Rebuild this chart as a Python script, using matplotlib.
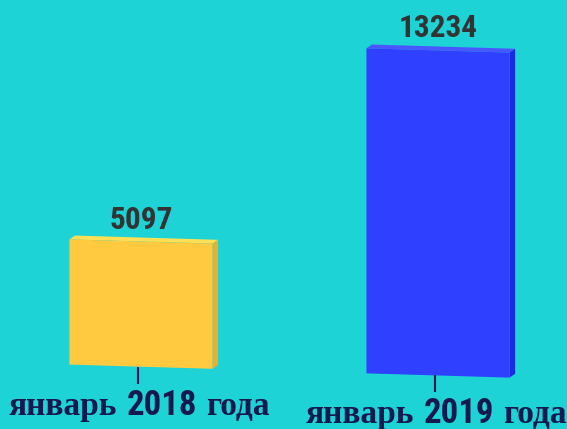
import numpy as np
import matplotlib
matplotlib.use('Agg')
import matplotlib.pyplot as plt
from matplotlib.transforms import Affine2D, IdentityTransform
from matplotlib.patches import Polygon

# ---- data ----
cat_words = [('январь', '2018', 'года'), ('январь', '2019', 'года')]
values = [5097, 13234]
colors_front = ['#FFC940', '#2F40FF']
colors_top = ['#FFE055', '#4A57FF']
colors_side = ['#E8B02C', '#172DE4']

BG = '#1ED3D6'
NAVY = '#15194F'
DPI = 100

fig = plt.figure(figsize=(5.67, 4.29), dpi=DPI, facecolor=BG)
ax = fig.add_axes([0, 0, 1, 1])
ax.set_facecolor(BG)
ax.set_axis_off()

x = np.arange(len(values))
ax.set_xlim(-0.4747, 1.4343)
ax.set_ylim(-2537, 14930)

# slight perspective tilt (display space skew)
slope = 0.0296
x0 = 141
skew = Affine2D().translate(-x0, 0).skew(0, -np.arctan(slope)).translate(x0, 0)
trans = ax.transData + skew

width = 0.482
bars = ax.bar(x, values, width=width, color=colors_front, transform=trans, zorder=3)

# depth faces
d = np.array([5.5, 3.8])
for xi, v, ct, cs in zip(x, values, colors_top, colors_side):
    pts = trans.transform([(xi - width / 2, 0), (xi + width / 2, 0),
                           (xi + width / 2, v), (xi - width / 2, v)])
    top = [pts[3], pts[2], pts[2] + d, pts[3] + d]
    side = [pts[1], pts[2], pts[2] + d, pts[1] + d]
    ax.add_patch(Polygon(top, closed=True, facecolor=ct, edgecolor='none',
                         transform=IdentityTransform(), zorder=2))
    ax.add_patch(Polygon(side, closed=True, facecolor=cs, edgecolor='none',
                         transform=IdentityTransform(), zorder=2))

num_family = ['Roboto Condensed', 'Roboto', 'DejaVu Sans']

# value labels
for xi, v in zip(x, values):
    ax.annotate(f'{v}', xy=(xi, v), xycoords=trans, xytext=(0, 13),
                textcoords='offset pixels', ha='center', va='baseline',
                fontsize=22.5, fontweight='bold', family=num_family,
                color='#333333', zorder=5)

# ticks
for xi in x:
    ax.plot([xi], [0], marker=3, markersize=12.2, markeredgewidth=1.5,
            color=NAVY, transform=trans + Affine2D().translate(-3, 0), zorder=4)

# category labels (mixed fonts)
fig.canvas.draw()
renderer = fig.canvas.get_renderer()
serif = dict(family=['Liberation Serif'], fontweight='bold',
             fontsize=24, color=NAVY)
num = dict(family=num_family, fontweight='bold', fontsize=25, color=NAVY)
gap_px = 9
for xi, words in zip(x, cat_words):
    anchor = trans + Affine2D().translate(-2, -48)
    texts = []
    for s, props in zip(words, [serif, num, serif]):
        t = ax.text(xi, 0, s, transform=anchor, ha='left', va='baseline', **props)
        texts.append(t)
    widths = [t.get_window_extent(renderer).width for t in texts]
    total = sum(widths) + gap_px * (len(texts) - 1)
    cur = -total / 2
    for t, w in zip(texts, widths):
        t.set_transform(anchor + Affine2D().translate(cur, 0))
        cur += w + gap_px

fig.savefig('out.png', dpi=DPI, facecolor=BG)
